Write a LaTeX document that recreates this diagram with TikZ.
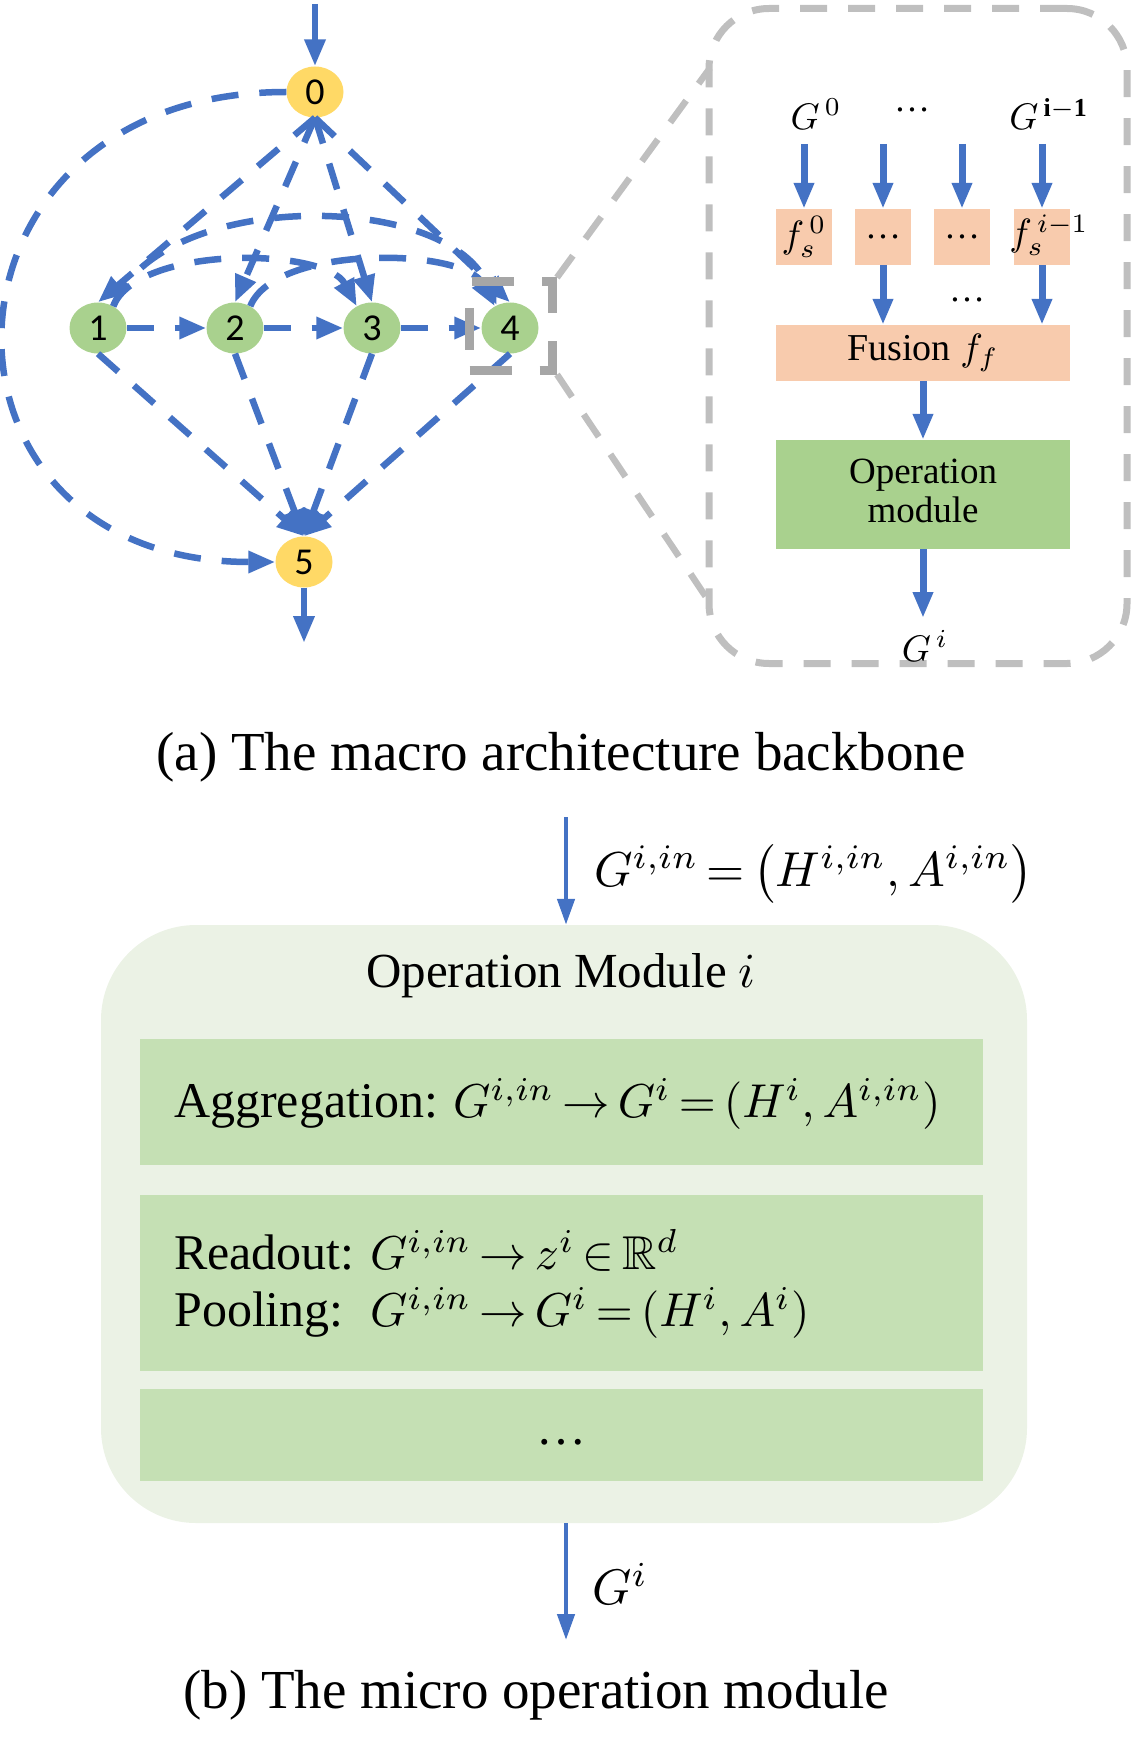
\documentclass[tikz,border=0pt]{standalone}
\usepackage{fontspec}
\usepackage{amssymb}
\usepackage{graphicx}
\setmainfont{Liberation Serif}
\newfontfamily\nodefont{Carlito}
\usetikzlibrary{arrows.meta,shapes.geometric}
\definecolor{eblue}{HTML}{4472C4}
\definecolor{nyellow}{HTML}{FFD966}
\definecolor{ngreen}{HTML}{A9D18E}
\definecolor{orangebox}{HTML}{F8CBAD}
\definecolor{lightgreen}{HTML}{EBF2E5}
\definecolor{midgreen}{HTML}{C5E0B4}
\definecolor{greyline}{HTML}{BFBFBF}
\definecolor{greysq}{HTML}{A6A6A6}
\newcommand{\MS}[2]{\scalebox{#1}{\fontsize{10}{12}\selectfont\rmfamily #2}}
\newcommand{\MM}[2]{\scalebox{#1}{\fontsize{10}{12}\selectfont\thickmuskip=3mu plus 1mu\medmuskip=2mu $#2$}}
\begin{document}
\begin{tikzpicture}[x=1pt,y=1pt,
 every node/.style={inner sep=0pt},
 ynode/.style={ellipse, fill=nyellow, minimum width=57pt, minimum height=51pt, inner sep=0pt, font=\nodefont\fontsize{38}{40}\selectfont},
 gnode/.style={ynode, fill=ngreen},
 dedge/.style={draw=eblue, line width=6.5pt, dash pattern=on 27pt off 21pt, -{Triangle[length=27pt,width=21pt]}},
 sedge/.style={draw=eblue, line width=6.5pt, -{Triangle[length=27pt,width=20pt]}},
 zedge/.style={draw=eblue, line width=7pt, -{Triangle[length=26pt,width=19pt]}},
 bedge/.style={draw=eblue, line width=4.5pt, -{Triangle[length=26pt,width=17pt]}},
 greydash/.style={draw=greyline, line width=6.5pt, dash pattern=on 27pt off 21pt},
 obox/.style={rectangle, fill=orangebox, minimum width=56pt, minimum height=56pt},
 capfont/.style={font=\rmfamily\fontsize{55}{60}\selectfont},
 ibox/.style={rectangle, fill=midgreen, minimum width=843pt}
]
\useasboundingbox (0,0) rectangle (1132,-1760);

% ---------- (a) macro architecture ----------
\node[ynode] (n0) at (315,-92) {0};
\node[gnode] (n1) at (98,-328) {1};
\node[gnode] (n2) at (235,-328) {2};
\node[gnode] (n3) at (372,-328) {3};
\node[gnode] (n4) at (510,-328) {4};
\node[ynode] (n5) at (304,-562) {5};
\coordinate (in0) at (315,-4);
\coordinate (out5) at (304,-643);

\draw[sedge] (in0) -- (n0);
\draw[sedge] (n5) -- (out5);

\draw[dedge] (n0.west) to[out=180,in=180,looseness=2] (n5.west);
\foreach \k in {1,2,3,4}{
  \draw[dedge] (n0.south) -- (n\k.north);
  \draw[dedge] (n\k.south) -- (n5.north);
}
\draw[dedge] (n1.east) -- (n2.west);
\draw[dedge] (n2.east) -- (n3.west);
\draw[dedge] (n3.east) -- (n4.west);
\draw[dedge] (n1.55) to[out=68,in=118,looseness=0.7] (n3.125);
\draw[dedge] (n2.55) to[out=68,in=118,looseness=0.7] (n4.125);
\draw[dedge] (n1.55) to[out=68,in=115,looseness=0.84] (n4.120);

% zoom square and big dashed box
\node[draw=greysq, line width=9pt, dash pattern=on 42pt off 28pt, minimum width=83pt, minimum height=88pt] (zsq) at (511,-326) {};
\node[draw=greyline, line width=7pt, dash pattern=on 27pt off 21pt, rounded corners=60pt, minimum width=418pt, minimum height=655pt] (bigbox) at (918,-336) {};
\coordinate (bbtop) at (710,-68);
\coordinate (bbbot) at (708,-600);
\draw[greydash] (zsq.north east) -- (bbtop);
\draw[greydash] (zsq.south east) -- (bbbot);

% contents of the zoomed box
\node (g0) at (816,-114) {\MS{3.7}{$G^{\,0}$}};
\node (gd) at (912,-110) {\MS{3.6}{…}};
\node (gim) at (1049,-114) {\MS{3.7}{$G^{\,\mathbf{i-1}}$}};
\coordinate (s1) at (804,-144);
\coordinate (s2) at (883,-144);
\coordinate (s3) at (962,-144);
\coordinate (s4) at (1042,-144);
\node[obox] (b1) at (804,-237) {};
\node[obox] (b2) at (883,-237) {};
\node[obox] (b3) at (962,-237) {};
\node[obox] (b4) at (1042,-237) {};
\node (t1) at (b1) {\MS{3.8}{$f_s^{\,0}$}};
\node (t2) at (b2) {\MS{3.6}{…}};
\node (t3) at (b3) {\MS{3.6}{…}};
\node (t4) at (1049,-235) {\MS{3.8}{$f_s^{\,i-1}$}};
\draw[zedge] (s1) -- (b1);
\draw[zedge] (s2) -- (b2);
\draw[zedge] (s3) -- (b3);
\draw[zedge] (s4) -- (b4);
\node[rectangle, fill=orangebox, minimum width=294pt, minimum height=56pt] (fus) at (923,-353) {\MS{3.8}{Fusion $f_f$}};
\node (fd) at (967,-300) {\MS{3.6}{…}};
\draw[zedge] (b2.south) -- (b2.south |- fus.north);
\draw[zedge] (b4.south) -- (b4.south |- fus.north);
\node[rectangle, fill=ngreen, minimum width=294pt, minimum height=109pt] (opm) at (923,-494.5) {\MS{3.7}{\begin{tabular}{@{}c@{}}Operation\\[-1.5pt]module\end{tabular}}};
\draw[zedge] (fus) -- (opm);
\coordinate (gout) at (923,-618);
\draw[zedge] (opm.south) -- (gout);
\node (gi) at (925,-646) {\MS{3.7}{$G^{\,i}$}};

\node[capfont] (capa) at (561,-757) {(a) The macro architecture backbone};

% ---------- (b) micro operation module ----------
\node[rectangle, fill=lightgreen, rounded corners=95pt, minimum width=926pt, minimum height=598pt] (gbox) at (564,-1224) {};
\coordinate (bin) at (566,-817);
\draw[bedge] (bin) -- (bin |- gbox.north);
\node[anchor=west] (lin) at (594,-874) {\MM{4.9}{G^{i,in} = \left(H^{i,in}, A^{i,in}\right)}};
\node (title) at (561,-976) {\MS{4.9}{Operation Module $i$}};
\node[ibox, minimum height=126pt] (ib1) at (561.5,-1102) {};
\node[ibox, minimum height=176pt] (ib2) at (561.5,-1283) {};
\node[ibox, minimum height=92pt] (ib3) at (561.5,-1435) {};
\node[anchor=west] (agg) at (174,-1104) {\MS{5}{\makebox[55.8pt][l]{Aggregation:}}\MM{4.75}{G^{i,in} \rightarrow G^{i} = (H^{i}, A^{i,in})}};
\node[anchor=west] (rdo) at (174,-1250) {\MS{5}{\makebox[39.2pt][l]{Readout:}}\MM{4.75}{G^{i,in} \rightarrow z^{i} \in \mathbb{R}^{d}}};
\node[anchor=west] (pol) at (174,-1313) {\MS{5}{\makebox[39.2pt][l]{Pooling:}}\MM{4.75}{G^{i,in} \rightarrow G^{i} = (H^{i}, A^{i})}};
\node (idots) at (561,-1442) {\MS{5}{…}};
\coordinate (bout) at (566,-1640);
\draw[bedge] (gbox.south -| bin) -- (bout);
\node[anchor=west] (lout) at (592,-1584) {\MS{5}{$G^{i}$}};

\node[capfont] (capb) at (536,-1695) {(b) The micro operation module};
\end{tikzpicture}
\end{document}
